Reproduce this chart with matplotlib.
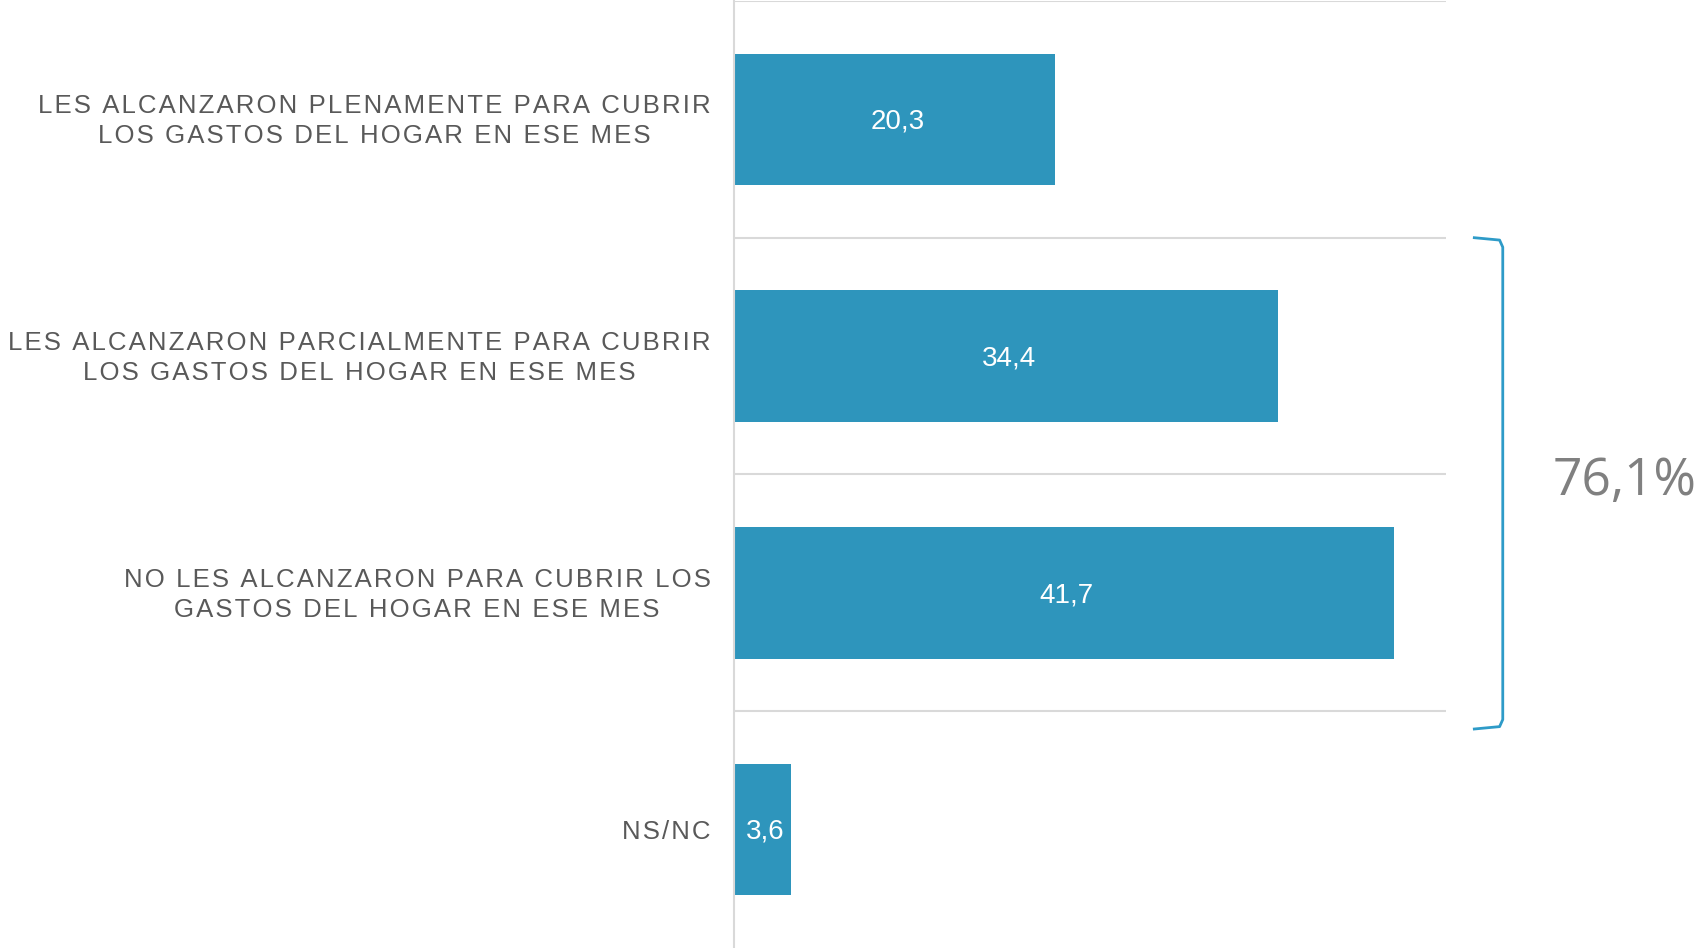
import numpy as np
from matplotlib import pyplot as plt

# data
categories = [
    'LES ALCANZARON PLENAMENTE PARA CUBRIR\nLOS GASTOS DEL HOGAR EN ESE MES',
    'LES ALCANZARON PARCIALMENTE PARA CUBRIR\nLOS GASTOS DEL HOGAR EN ESE MES',
    'NO LES ALCANZARON PARA CUBRIR LOS\nGASTOS DEL HOGAR EN ESE MES',
    'NS/NC',
]
values = [20.3, 34.4, 41.7, 3.6]
bracketGroup = [1, 2]  # bars summed in the bracket

barColor = '#2E95BC'
labelColor = '#595959'
gridColor = '#D9D9D9'


def spaced(s, sep='\u200a'):
    # fake letter spacing: hair space between characters
    return '\n'.join(sep.join(line) for line in s.split('\n'))


fig = plt.figure(figsize=(17.01, 9.48), dpi=100)
ax = fig.add_axes([0.4318, 0.0, 0.4182, 0.999])

y = np.arange(len(values))
ax.barh(y, values, height=0.555, color=barColor)

ax.set_xlim(0, 45)
ax.set_ylim(len(values) - 0.5, -0.5)

for i, v in enumerate(values):
    ax.text(v / 2 + 0.15, i + 0.01, f'{v:.1f}'.replace('.', ','), ha='center', va='center',
            color='white', fontsize=20, family=['Liberation Sans', 'DejaVu Sans'])

# horizontal separators between categories
for b in np.arange(-0.5, len(values) - 0.5, 1.0):
    ax.axhline(b, color=gridColor, lw=1.5, zorder=0)

for s in ['top', 'right', 'bottom']:
    ax.spines[s].set_visible(False)
ax.spines['left'].set_color(gridColor)
ax.spines['left'].set_linewidth(1.5)
ax.set_xticks([])
ax.set_yticks([])

# category labels
for i, c in enumerate(categories):
    ax.annotate(spaced(c), xy=(0, i), xycoords=('axes fraction', 'data'),
                xytext=(-24, -2), textcoords='offset pixels',
                ha='right', va='center', multialignment='center',
                color=labelColor, fontsize=18.5, linespacing=1.32,
                family=['Liberation Sans', 'DejaVu Sans'])

# bracket around the "not fully" group
top = bracketGroup[0] - 0.5
bot = bracketGroup[-1] + 0.5 + 0.075
x0, x1 = 46.8, 48.6
bx = [x0, x1 - 0.2, x1, x1, x1 - 0.2, x0]
by = [top, top + 0.01, top + 0.04, bot - 0.04, bot - 0.01, bot]
ax.plot(bx, by, color='#2E9BC8', lw=2, clip_on=False, solid_joinstyle='round')

total = sum(values[i] for i in bracketGroup)
ax.text(56.3, np.mean(bracketGroup) + 0.03, f'{total:.1f}%'.replace('.', ','),
        ha='center', va='center', fontsize=37, color='#808080',
        family=['Open Sans', 'DejaVu Sans'], clip_on=False)

fig.savefig('out.png', dpi=100)
